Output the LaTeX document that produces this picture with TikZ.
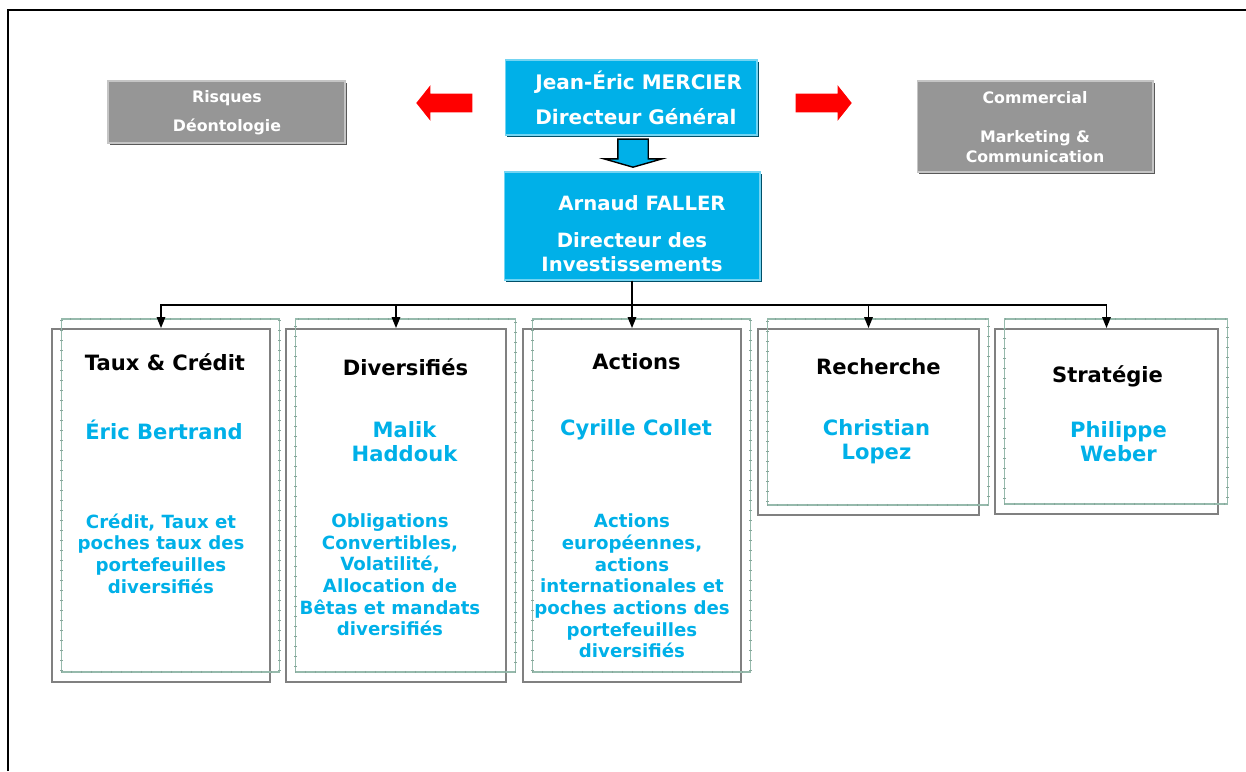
\documentclass[tikz,border=0pt]{standalone}
\usepackage{fontspec}
\setmainfont{DejaVu Sans}
\usetikzlibrary{positioning,arrows.meta,shapes.arrows,shadows,decorations.pathreplacing}

\definecolor{bleuCiel}{RGB}{0,176,232}
\definecolor{grisBoite}{RGB}{150,150,150}
\definecolor{grisCadre}{RGB}{128,128,128}
\definecolor{vertCadre}{RGB}{150,186,172}
\definecolor{rougeFleche}{RGB}{255,0,0}

\tikzset{
  chef/.style={fill=bleuCiel, draw=bleuCiel!55!white, line width=0.6pt, inner sep=0pt,
    drop shadow={shadow xshift=0.04cm, shadow yshift=-0.04cm, opacity=1, fill=bleuCiel!45!black}},
  pole/.style={fill=grisBoite, draw=grisBoite!55!white, line width=0.6pt, inner sep=0pt,
    drop shadow={shadow xshift=0.04cm, shadow yshift=-0.04cm, opacity=1, fill=black!65}},
  txtchef/.style={text=white, font=\fontsize{11.4}{13.7}\selectfont\bfseries, inner sep=0pt, align=center},
  txtpole/.style={text=white, font=\fontsize{9}{11.4}\selectfont\bfseries, inner sep=0pt, align=center},
  cadre/.style={draw=grisCadre, line width=1.1pt, inner sep=0pt},
  fond/.style={draw=vertCadre, line width=0.8pt, inner sep=0pt,
    postaction={decorate, draw=vertCadre!90!black, line width=0.25pt,
      decoration={ticks, segment length=0.2cm, amplitude=0.022cm}}},
  titre/.style={font=\fontsize{12}{13.7}\selectfont\bfseries, align=center, inner sep=0pt},
  nom/.style={titre, text=bleuCiel},
  mission/.style={text=bleuCiel, font=\fontsize{10.35}{12.3}\selectfont\bfseries, align=center, inner sep=0pt},
  lien/.style={line width=0.9pt, -{Triangle[length=0.22cm, width=0.17cm]}},
  flecheRouge/.style={single arrow, fill=rougeFleche, inner xsep=0pt, inner ysep=0.18cm,
    minimum height=1.12cm, single arrow head extend=0.17cm, single arrow tip angle=103},
}

\begin{document}
\begin{tikzpicture}[x=0.02cm, y=-0.02cm]
    \useasboundingbox (0,0) rectangle (1246,771);

    % Cadre de la page
    \coordinate (coinBas) at (8,771);
    \coordinate (coinHaut) at (8,10);
    \coordinate (coinDroit) at (1246,10);
    \draw[line width=1.3pt] (coinBas) -- (coinHaut) -- (coinDroit);

    % Direction
    \node[chef, minimum width=5.04cm, minimum height=1.5cm] (dg) at (631,97.5) {};
    \node[txtchef, anchor=west] (dgNom) at (535,82) {Jean-Éric MERCIER};
    \node[txtchef, anchor=west] (dgRole) at (535,117) {Directeur Général};

    \node[chef, minimum width=5.12cm, minimum height=2.16cm] (di) at (632,226) {};
    \node[txtchef, font=\fontsize{11.2}{13.7}\selectfont\bfseries] (diNom) at (642,203) {Arnaud FALLER};
    \node[txtchef, font=\fontsize{11.2}{13.7}\selectfont\bfseries] (diRole) at (632,252) {Directeur des\\Investissements};

    \node[single arrow, rotate=-90, fill=bleuCiel, draw=black, line width=0.8pt,
      inner xsep=0pt, inner ysep=0.29cm, minimum height=0.56cm,
      single arrow head extend=0.28cm, single arrow tip angle=148] (versDi) at (633,151) {};

    % Pôles rattachés
    \node[pole, minimum width=4.74cm, minimum height=1.24cm] (risques) at (226.5,112) {};
    \node[txtpole, font=\fontsize{9}{16.5}\selectfont\bfseries] (risquesTxt) at (227,112.5) {Risques\\Déontologie};
    \node[flecheRouge, rotate=180] (flecheG) at (448,103) {};

    \node[pole, minimum width=4.72cm, minimum height=1.82cm] (commercial) at (1035,126.5) {};
    \node[txtpole] (commercialTxt) at (1035,98) {Commercial};
    \node[txtpole] (marketingTxt) at (1035,147) {Marketing \&\\Communication};
    \node[flecheRouge] (flecheD) at (820,103) {};

    % Equipes de gestion
    \node[cadre, minimum width=4.36cm, minimum height=7.06cm] (taux) at (161,505.5) {};
    \node[cadre, minimum width=4.40cm, minimum height=7.06cm] (divers) at (396,505.5) {};
    \node[cadre, minimum width=4.36cm, minimum height=7.06cm] (actions) at (632,505.5) {};
    \node[cadre, minimum width=4.42cm, minimum height=3.72cm] (recherche) at (868.5,422) {};
    \node[cadre, minimum width=4.46cm, minimum height=3.70cm] (strategie) at (1106.5,421.5) {};

    \node[fond, minimum width=4.36cm, minimum height=7.06cm] (tauxFond) at ([shift={(9.5,-10)}]taux.center) {};
    \node[fond, minimum width=4.40cm, minimum height=7.06cm] (diversFond) at ([shift={(9.5,-10)}]divers.center) {};
    \node[fond, minimum width=4.36cm, minimum height=7.06cm] (actionsFond) at ([shift={(9.5,-10)}]actions.center) {};
    \node[fond, minimum width=4.42cm, minimum height=3.72cm] (rechercheFond) at ([shift={(9.5,-10)}]recherche.center) {};
    \node[fond, minimum width=4.46cm, minimum height=3.70cm] (strategieFond) at ([shift={(9.5,-10)}]strategie.center) {};

    \node[titre] (tauxTitre) at (165,362) {Taux \& Crédit};
    \node[nom] (tauxNom) at (164,430) {Éric Bertrand};
    \node[mission] (tauxMission) at (161,553.5) {Crédit, Taux et\\poches taux des\\portefeuilles\\diversifiés};

    \node[titre] (diversTitre) at (405.5,367) {Diversifiés};
    \node[nom] (diversNom) at (404.5,442) {Malik\\Haddouk};
    \node[mission] (diversMission) at (390,575) {Obligations\\Convertibles,\\Volatilité,\\Allocation de\\Bêtas et mandats\\diversifiés};

    \node[titre] (actionsTitre) at (636.5,362) {Actions};
    \node[nom] (actionsNom) at (636,430) {Cyrille Collet};
    \node[mission] (actionsMission) at (632,586) {Actions\\européennes,\\actions\\internationales et\\poches actions des\\portefeuilles\\diversifiés};

    \node[titre] (rechercheTitre) at (878.5,367) {Recherche};
    \node[nom] (rechercheNom) at (876.5,442) {Christian\\Lopez};

    \node[titre] (strategieTitre) at (1107.5,376) {Stratégie};
    \node[nom] (strategieNom) at (1118.5,442) {Philippe\\Weber};

    % Liaisons
    \coordinate (bus) at (632,305);
    \draw[line width=0.9pt] (di.south) -- (bus);
    \foreach \equipe in {taux,divers,actions,recherche,strategie}
        \draw[lien] (bus) -| (\equipe.north);
\end{tikzpicture}
\end{document}
